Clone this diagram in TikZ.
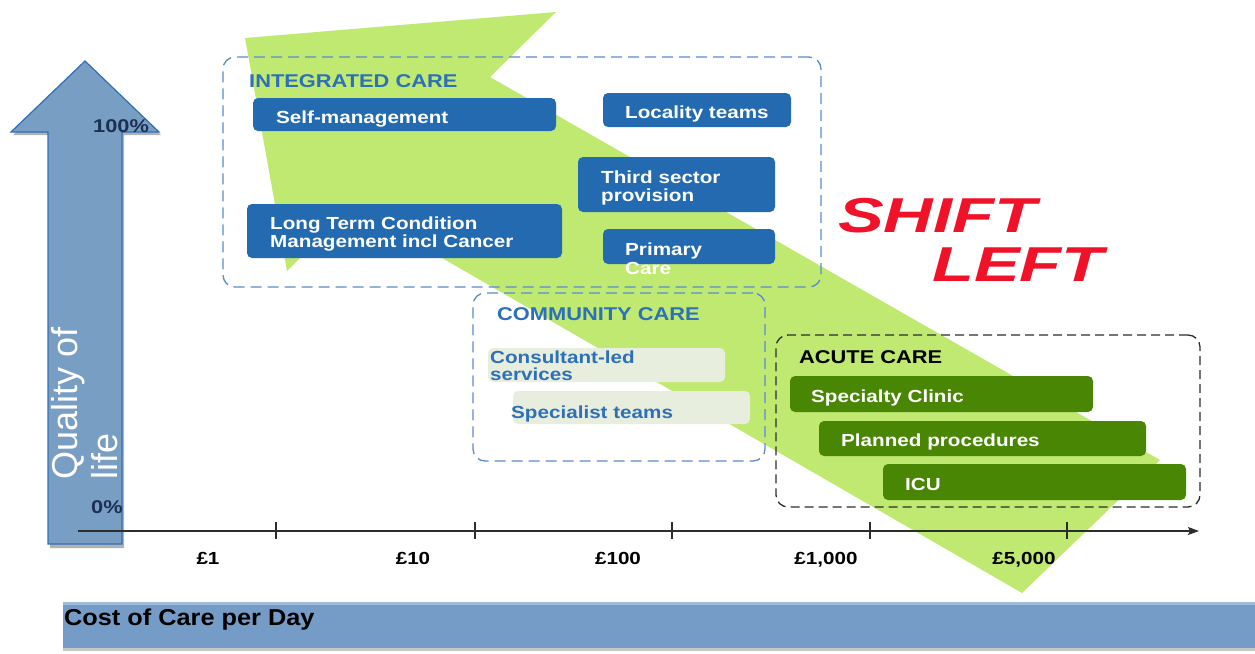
\documentclass[tikz,border=0pt]{standalone}
\usepackage{fontspec}
\setmainfont{Liberation Sans}[FakeStretch=1.18]
\newfontfamily\plainsans{Liberation Sans}
\newfontfamily\shiftfont{Liberation Sans}[FakeStretch=1.4]
\newfontfamily\costfont{Liberation Sans}[FakeStretch=1.1]
\usetikzlibrary{arrows.meta}
\definecolor{boxblue}{RGB}{35,106,176}
\definecolor{labblue}{RGB}{46,112,184}
\definecolor{dashblue}{RGB}{88,140,205}
\definecolor{arrowgreen}{RGB}{192,233,114}
\definecolor{boxgreen}{RGB}{73,134,4}
\definecolor{lightbox}{RGB}{232,238,222}
\definecolor{qolfill}{RGB}{121,158,196}
\definecolor{qoledge}{RGB}{46,110,181}
\definecolor{barfill}{RGB}{117,156,198}
\definecolor{barlight}{RGB}{160,186,218}
\definecolor{shiftred}{RGB}{240,18,40}
\definecolor{pctnavy}{RGB}{28,48,84}
\definecolor{axisgray}{RGB}{45,45,45}
\begin{document}
\begin{tikzpicture}[x=1pt,y=-1pt,
  bluebox/.style={fill=boxblue, rounded corners=5pt, inner sep=0pt},
  greenbox/.style={fill=boxgreen, rounded corners=5pt, inner sep=0pt},
  lightbx/.style={fill=lightbox, rounded corners=5pt, inner sep=0pt},
  dashbox/.style={draw=dashblue, line width=1.3pt, dash pattern=on 11pt off 6pt, rounded corners=12pt, inner sep=0pt},
  blackdash/.style={draw=axisgray, line width=1.3pt, dash pattern=on 9pt off 5pt, rounded corners=12pt, inner sep=0pt},
  boxtext/.style={text=white, font=\bfseries\fontsize{17.5}{18}\selectfont, anchor=base west, inner sep=0pt, align=left},
  grouplabel/.style={text=labblue, font=\bfseries\fontsize{18.5}{20}\selectfont, anchor=base west, inner sep=0pt},
  costlabel/.style={text=black, font=\bfseries\fontsize{17.5}{18}\selectfont, anchor=base, inner sep=0pt},
  pct/.style={text=pctnavy, font=\bfseries\fontsize{18.5}{20}\selectfont, anchor=base west, inner sep=0pt},
  qoltext/.style={text=white, font=\plainsans\fontsize{36}{40}\selectfont, anchor=base west, inner sep=0pt, rotate=90},
  shifttext/.style={text=shiftred, font=\shiftfont\bfseries\itshape\fontsize{49}{55}\selectfont, anchor=base west, inner sep=0pt},
  tick/.style={draw=axisgray, line width=1.2pt}
]
\useasboundingbox (0,0) rectangle (1255,653);

% green shift-left arrow
\fill[arrowgreen] (245,38) -- (556,12) -- (490,77) -- (1160,460) -- (1022,593) -- (352,206) -- (287,271) -- cycle;

% quality of life arrow
\fill[black!30] (50,548) -- (50,135) -- (13,135) -- (87,64) -- (161,135) -- (124,135) -- (124,548) -- cycle;
\draw[qoledge, fill=qolfill, line width=1.2pt] (48,544) -- (48,132) -- (11,132) -- (85,61) -- (159,132) -- (122,132) -- (122,544) -- cycle;
\node[qoltext] (qol1) at (77,480) {Quality of};
\node[qoltext] (qol2) at (117,480) {life};
\node[pct] (p100) at (93,132) {100\%};
\node[pct] (p0) at (91,513) {0\%};

% axis
\coordinate (axL) at (78,531);
\coordinate (axR) at (1199,531);
\draw[draw=axisgray, line width=1.2pt, -{Stealth[length=11pt,width=8pt,inset=2pt]}] (axL) -- (axR);
\foreach \tx in {276,475,672,870,1067} {
  \draw[tick] (\tx,522) -- (\tx,539);
}
\node[costlabel] (c1) at (208,564) {£1};
\node[costlabel] (c10) at (413,564) {£10};
\node[costlabel] (c100) at (618,564) {£100};
\node[costlabel] (c1000) at (826,564) {£1,000};
\node[costlabel] (c5000) at (1024,564) {£5,000};

% bottom bar
\fill[black!22] (63,648) rectangle (1255,651);
\fill[barfill] (63,602) rectangle (1255,648);
\fill[barlight] (63,602) rectangle (1255,605);
\node[text=black, font=\costfont\bfseries\fontsize{23}{26}\selectfont, anchor=base west, inner sep=0pt] (cost) at (64,625) {Cost of Care per Day};

% group frames
\node[dashbox, minimum width=598, minimum height=230] (integ) at (522,172) {};
\node[dashbox, minimum width=292, minimum height=168] (comm) at (619,377) {};
\node[blackdash, minimum width=424, minimum height=172] (acute) at (988,421) {};

\node[grouplabel] (integL) at (249,87) {INTEGRATED CARE};
\node[grouplabel] (commL) at (497,320) {COMMUNITY CARE};
\node[grouplabel, text=black] (acuteL) at (799,363) {ACUTE CARE};

% integrated care boxes
\node[bluebox, minimum width=303, minimum height=33] (selfm) at (404.5,114.5) {};
\node[bluebox, minimum width=188, minimum height=34] (loc) at (697,110) {};
\node[bluebox, minimum width=197, minimum height=55] (third) at (676.5,184.5) {};
\node[bluebox, minimum width=315, minimum height=54] (ltc) at (404.5,231) {};
\node[bluebox, minimum width=172, minimum height=35] (prim) at (689,246.5) {};
\node[boxtext] (selfmT) at (276,123) {Self-management};
\node[boxtext] (locT) at (625,118) {Locality teams};
\node[boxtext] (thirdT) at (601,201) {Third sector\\provision};
\node[boxtext] (ltcT) at (270,247) {Long Term Condition\\Management incl Cancer};
\node[boxtext, font=\bfseries\fontsize{17.5}{19}\selectfont] (primT) at (625,274) {Primary\\Care};

% community care boxes
\node[lightbx, minimum width=237, minimum height=34] (cons) at (606.5,365) {};
\node[lightbx, minimum width=237, minimum height=33] (spec) at (631.5,407.5) {};
\node[boxtext, text=labblue, font=\bfseries\fontsize{17.5}{17}\selectfont] (consT) at (490,380) {Consultant-led\\services};
\node[boxtext, text=labblue] (specT) at (511,418) {Specialist teams};

% acute care boxes
\node[greenbox, minimum width=303, minimum height=36] (clinic) at (941.5,394) {};
\node[greenbox, minimum width=327, minimum height=35] (planned) at (982.5,438.5) {};
\node[greenbox, minimum width=303, minimum height=36] (icu) at (1034.5,482) {};
\node[boxtext] (clinicT) at (811,402) {Specialty Clinic};
\node[boxtext] (plannedT) at (841,446) {Planned procedures};
\node[boxtext] (icuT) at (905,490) {ICU};

% shift left
\node[shifttext] (shift) at (838,232) {SHIFT};
\node[shifttext] (left) at (932,281) {LEFT};
\end{tikzpicture}
\end{document}
